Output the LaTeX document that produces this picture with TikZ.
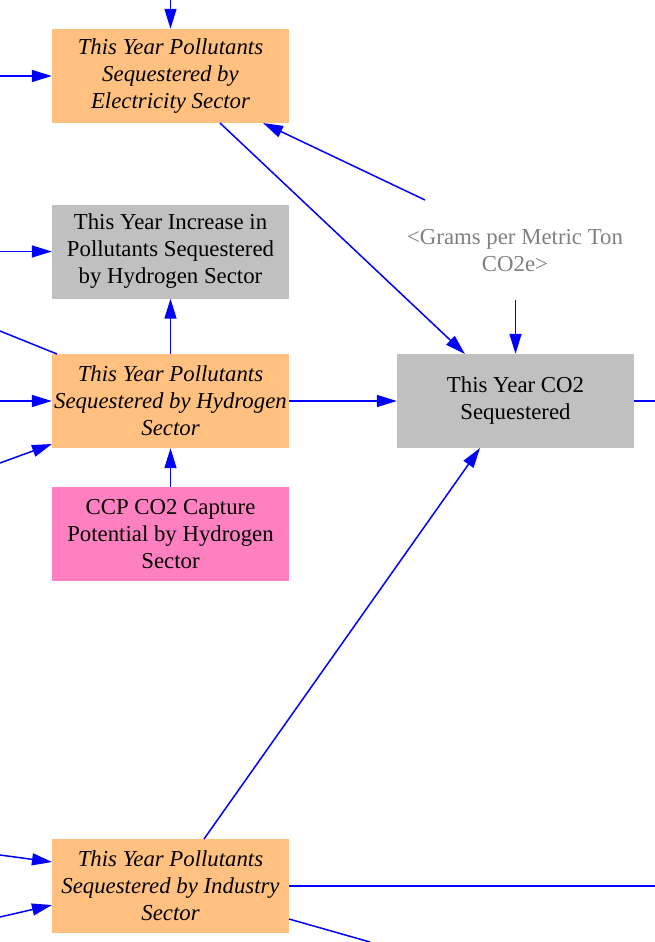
\documentclass[tikz,border=0pt]{standalone}
\usepackage{fontspec}
\setmainfont{Liberation Serif}
\usetikzlibrary{arrows.meta}
\definecolor{boxorange}{HTML}{FFC080}
\definecolor{boxgray}{HTML}{C0C0C0}
\definecolor{boxpink}{HTML}{FF80C0}
\definecolor{linkblue}{HTML}{0000FF}
\definecolor{shadowtext}{HTML}{808080}
\begin{document}
\begin{tikzpicture}[x=1pt,y=-1pt,
  box/.style={minimum width=237pt, minimum height=94pt, inner sep=0pt, align=center,
    font=\fontsize{22.8}{27}\selectfont},
  levelbox/.style={box, fill=boxorange, font=\fontsize{22.8}{27}\selectfont\itshape},
  auxbox/.style={box, fill=boxgray},
  constbox/.style={box, fill=boxpink},
  shadow/.style={align=center, text=shadowtext, font=\fontsize{22.8}{27}\selectfont},
  conn/.style={draw=linkblue, line width=1.5pt, -{Triangle[length=20pt,width=12pt]}},
  linkline/.style={draw=linkblue, line width=1.5pt}]
\useasboundingbox (0,0) rectangle (655,942);

\node[levelbox] (elec) at (170.5,76) {This Year Pollutants\\Sequestered by\\Electricity Sector};
\node[auxbox] (inch) at (170.5,251.5) {This Year Increase in\\Pollutants Sequestered\\by Hydrogen Sector};
\node[levelbox] (polh) at (170.5,401) {This Year Pollutants\\Sequestered by Hydrogen\\Sector};
\node[constbox] (ccp) at (170.5,534) {CCP CO2 Capture\\Potential by Hydrogen\\Sector};
\node[auxbox] (co2) at (515.5,401) {This Year CO2\\Sequestered};
\node[shadow] (grams) at (515,251) {<Grams per Metric Ton\\CO2e>};
\node[levelbox] (ind) at (170.5,886) {This Year Pollutants\\Sequestered by Industry\\Sector};

% free ends
\coordinate (eTop) at (170.5,0);
\coordinate (eLeft) at (0,76);
\coordinate (iLeft) at (0,251.5);
\coordinate (pOut) at (0,331);
\coordinate (pLeft) at (0,401);
\coordinate (pLow) at (0,463);
\coordinate (cRight) at (655,401);
\coordinate (dUp) at (0,855);
\coordinate (dLow) at (0,917);
\coordinate (dRight) at (655,886);
\coordinate (dDown) at (370,942);
\coordinate (es) at (220,123);
\coordinate (gUp) at (425,200);
\coordinate (gDown) at (515.5,300);
\coordinate (pnw) at (57,354);
\coordinate (dTop) at (204,839);
\coordinate (dBot) at (289,919);

\draw[conn] (eTop) -- (elec.north);
\draw[conn] (eLeft) -- (elec.west);
\draw[conn] (es) -- (465,354);
\draw[conn] (gUp) -- (263,123);
\draw[conn] (gDown) -- (co2.north);
\draw[conn] (iLeft) -- (inch.west);
\draw[conn] (polh.north) -- (inch.south);
\draw[linkline] (pnw) -- (pOut);
\draw[conn] (pLeft) -- (polh.west);
\draw[conn] (pLow) -- (52,444);
\draw[conn] (polh.east) -- (co2.west);
\draw[conn] (ccp.north) -- (polh.south);
\draw[linkline] (co2.east) -- (cRight);
\draw[conn] (dTop) -- (480,448);
\draw[conn] (dUp) -- (52,862);
\draw[conn] (dLow) -- (52,905);
\draw[linkline] (ind.east) -- (dRight);
\draw[linkline] (dBot) -- (dDown);
\end{tikzpicture}
\end{document}
